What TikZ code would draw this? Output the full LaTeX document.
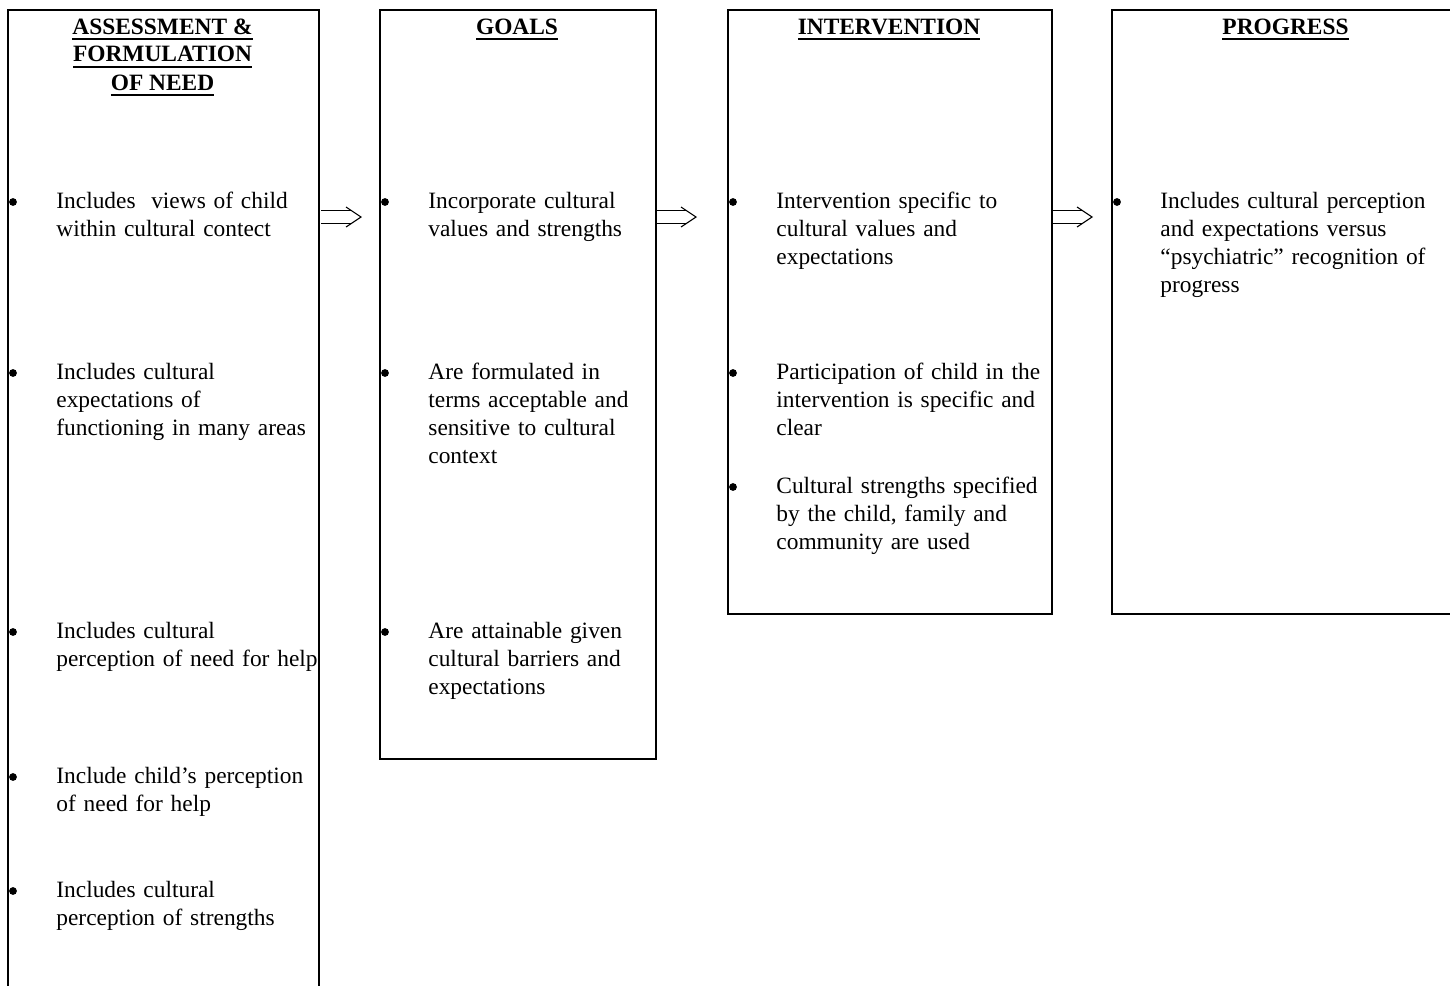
\documentclass[tikz,border=0pt]{standalone}
\usepackage{fontspec}
\setmainfont{Liberation Serif}
\newcommand\myul[1]{\leavevmode\setbox0=\hbox{#1}\rlap{\vrule width \wd0 height -2.2pt depth 3.1pt}\box0}
\usetikzlibrary{calc}
\begin{document}
\begin{tikzpicture}[x=0.5pt,y=-0.5pt,
  boxst/.style={draw,line width=1pt,anchor=north west,inner sep=0pt},
  itemst/.style={anchor=base west,inner sep=0pt,align=left,text width=165pt,
    font=\fontsize{11.7}{14}\selectfont},
  bulst/.style={circle,fill,inner sep=0pt,minimum size=3.9pt},
  titlest/.style={anchor=base,inner sep=0pt,align=center,
    font=\fontsize{11.7}{14}\selectfont\bfseries},
  arrowline/.style={line width=0.55pt}]
\useasboundingbox (0,0) rectangle (1450,985);
\clip (0,0) rectangle (1450,985);
\newcommand\myimpl[1]{%
  \draw[arrowline] ($(#1s)+(0,-6.5)$) -- ($(#1e)+(-9.75,-6.5)$);
  \draw[arrowline] ($(#1s)+(0,6.5)$) -- ($(#1e)+(-9.75,6.5)$);
  \draw[arrowline] ($(#1e)+(-15,-10)$) -- (#1e) -- ($(#1e)+(-15,10)$);}
% boxes
\node[boxst,minimum width=155.5pt,minimum height=500pt] (b1) at (7,9) {};
\node[boxst,minimum width=138pt,minimum height=374.5pt] (b2) at (379,9) {};
\node[boxst,minimum width=162pt,minimum height=302pt] (b3) at (727,9) {};
\node[boxst,minimum width=175pt,minimum height=302pt] (b4) at (1111,9) {};
% titles (base anchor = last line)
\node[titlest] (t1) at (162.5,90) {\myul{ASSESSMENT \&}\\\myul{FORMULATION}\\\myul{OF NEED}};
\node[titlest] (t2) at (517,34) {\myul{GOALS}};
\node[titlest] (t3) at (889,34) {\myul{INTERVENTION}};
\node[titlest] (t4) at (1285.5,34) {\myul{PROGRESS}};
% box 1 items
\node[bulst] (p11) at (13,202) {};
\node[itemst] (i11) at (56,208) {Includes\ \ views of child\\within cultural contect};
\node[bulst] (p12) at (13,373) {};
\node[itemst] (i12) at (56,379) {Includes cultural\\expectations of\\functioning in many areas};
\node[bulst] (p13) at (13,632) {};
\node[itemst] (i13) at (56,638) {Includes cultural\\perception of need for help};
\node[bulst] (p14) at (13,777) {};
\node[itemst] (i14) at (56,783) {Include child’s perception\\of need for help};
\node[bulst] (p15) at (13,891) {};
\node[itemst] (i15) at (56,897) {Includes cultural\\perception of strengths};
% box 2 items
\node[bulst] (p21) at (385,202) {};
\node[itemst] (i21) at (428,208) {Incorporate cultural\\values and strengths};
\node[bulst] (p22) at (385,373) {};
\node[itemst] (i22) at (428,379) {Are formulated in\\terms acceptable and\\sensitive to cultural\\context};
\node[bulst] (p23) at (385,632) {};
\node[itemst] (i23) at (428,638) {Are attainable given\\cultural barriers and\\expectations};
% box 3 items
\node[bulst] (p31) at (733,202) {};
\node[itemst] (i31) at (776,208) {Intervention specific to\\cultural values and\\expectations};
\node[bulst] (p32) at (733,373) {};
\node[itemst] (i32) at (776,379) {Participation of child in the\\intervention is specific and\\clear};
\node[bulst] (p33) at (733,487) {};
\node[itemst] (i33) at (776,493) {Cultural strengths specified\\by the child, family and\\community are used};
% box 4 items
\node[bulst] (p41) at (1117,202) {};
\node[itemst] (i41) at (1160,208) {Includes cultural perception\\and expectations versus\\“psychiatric” recognition of\\progress};
% arrows
\coordinate (a1s) at (321,217); \coordinate (a1e) at (361,217);
\coordinate (a2s) at (657,217); \coordinate (a2e) at (696,217);
\coordinate (a3s) at (1053,217); \coordinate (a3e) at (1092,217);
\myimpl{a1}\myimpl{a2}\myimpl{a3}
\end{tikzpicture}
\end{document}
